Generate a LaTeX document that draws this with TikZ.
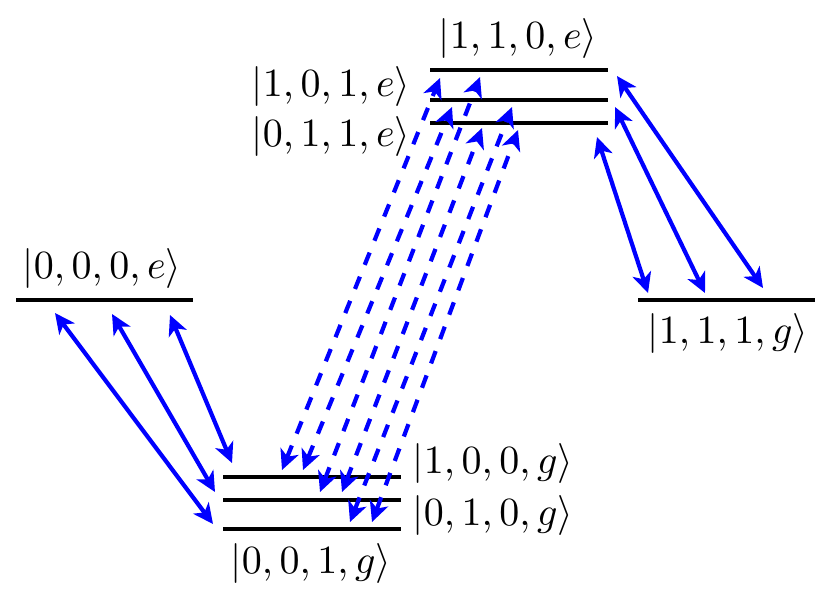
\documentclass[tikz,border=0pt]{standalone}
\usetikzlibrary{arrows.meta}
\begin{document}
\begin{tikzpicture}[x=0.25pt,y=-0.25pt,
  level/.style={line width=1.15pt},
  tip/.tip={Stealth[length=5pt,width=4.8pt,inset=1.4pt]},
  trans/.style={blue, line width=1.05pt, tip-tip},
  dtrans/.style={trans, dash pattern=on 3.3pt off 3.2pt},
  lab/.style={inner sep=0pt, font=\fontsize{10.3}{12}\selectfont}]
\useasboundingbox (0,0) rectangle (833,601);
% level end points
\coordinate (e000w) at (16,300);  \coordinate (e000e) at (193,300);
\coordinate (g111w) at (638,300); \coordinate (g111e) at (815,300);
\coordinate (e110w) at (430,70);  \coordinate (e110e) at (608,70);
\coordinate (e101w) at (430,100); \coordinate (e101e) at (608,100);
\coordinate (e011w) at (430,123); \coordinate (e011e) at (608,123);
\coordinate (g100w) at (223,477); \coordinate (g100e) at (401,477);
\coordinate (g010w) at (223,500); \coordinate (g010e) at (401,500);
\coordinate (g001w) at (223,529); \coordinate (g001e) at (401,529);
\foreach \n in {e000,g111,e110,e101,e011,g100,g010,g001}
  \draw[level] (\n w) -- (\n e);
% labels
\node[lab] (L000e) at (102,268) {$|0,0,0,e\rangle$};
\node[lab] (L111g) at (728,333) {$|1,1,1,g\rangle$};
\node[lab] (L110e) at (518,38)  {$|1,1,0,e\rangle$};
\node[lab] (L101e) at (331,86)  {$|1,0,1,e\rangle$};
\node[lab] (L011e) at (331,136) {$|0,1,1,e\rangle$};
\node[lab] (L100g) at (493,463) {$|1,0,0,g\rangle$};
\node[lab] (L010g) at (493,515) {$|0,1,0,g\rangle$};
\node[lab] (L001g) at (311,563) {$|0,0,1,g\rangle$};
% left transitions
\coordinate (a1) at (55,313);  \coordinate (b1) at (213,524);
\coordinate (a2) at (112,314); \coordinate (b2) at (215,492);
\coordinate (a3) at (170,315); \coordinate (b3) at (232,463);
\draw[trans] (a1) -- (b1);
\draw[trans] (a2) -- (b2);
\draw[trans] (a3) -- (b3);
% right transitions
\coordinate (c1) at (617,76);  \coordinate (d1) at (763,288);
\coordinate (c2) at (615,107); \coordinate (d2) at (705,293);
\coordinate (c3) at (597,137); \coordinate (d3) at (648,293);
\draw[trans] (c1) -- (d1);
\draw[trans] (c2) -- (d2);
\draw[trans] (c3) -- (d3);
% dashed transitions
\coordinate (p1) at (282,470); \coordinate (q1) at (440,78);
\coordinate (p2) at (303,470); \coordinate (q2) at (452,107);
\coordinate (p3) at (320,492); \coordinate (q3) at (480,77);
\coordinate (p4) at (342,492); \coordinate (q4) at (482,128);
\coordinate (p5) at (350,522); \coordinate (q5) at (512,107);
\coordinate (p6) at (372,522); \coordinate (q6) at (518,130);
\foreach \i in {1,...,6}
  \draw[dtrans] (p\i) -- (q\i);
\end{tikzpicture}
\end{document}
